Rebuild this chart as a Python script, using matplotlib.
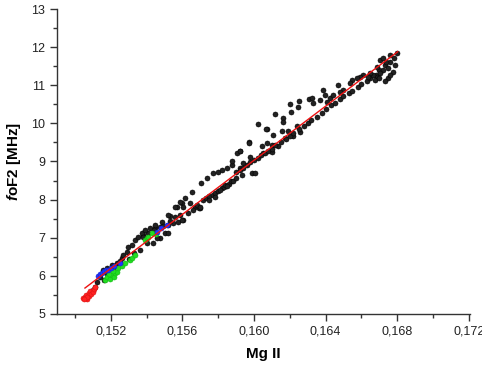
import matplotlib
matplotlib.use("Agg")
import matplotlib.pyplot as plt
from matplotlib.ticker import MultipleLocator, FuncFormatter

plt.rcParams['font.family'] = ['Liberation Sans', 'DejaVu Sans']
plt.rcParams['mathtext.fontset'] = 'custom'
plt.rcParams['mathtext.bfit'] = 'Liberation Sans:italic:bold'
plt.rcParams['mathtext.bf'] = 'Liberation Sans:bold'

# ---- data ----
black_x = [
    0.15100, 0.15111, 0.15122, 0.15139, 0.15155, 0.15178, 0.15206, 0.15234, 0.15261, 0.15267,
    0.15289, 0.15295, 0.15317, 0.15334, 0.15351, 0.15379, 0.15407, 0.15362, 0.15373, 0.15379,
    0.15390, 0.15401, 0.15418, 0.15435, 0.15446, 0.15474, 0.15474, 0.15502, 0.15519, 0.15530,
    0.15547, 0.15558, 0.15575, 0.15586, 0.15603, 0.15630, 0.15569, 0.15597, 0.15641, 0.15670,
    0.15697, 0.15446, 0.15457, 0.15485, 0.15519, 0.15519, 0.15558, 0.15586, 0.15603, 0.15614,
    0.15653, 0.15692, 0.15703, 0.15737, 0.15770, 0.15798, 0.15820, 0.15848, 0.15876, 0.15876,
    0.15920, 0.15971, 0.16072, 0.16162, 0.16206, 0.16245, 0.16310, 0.16066, 0.16106, 0.16162,
    0.16156, 0.16190, 0.16240, 0.16257, 0.16217, 0.16173, 0.15971, 0.16044, 0.16072, 0.16100,
    0.16133, 0.15905, 0.16050, 0.16100, 0.15920, 0.15977, 0.15938, 0.15920, 0.15988, 0.16005,
    0.15932, 0.15600, 0.15658, 0.15680, 0.15697,
    0.15714, 0.15730, 0.15750, 0.15770, 0.15780, 0.15800, 0.15820, 0.15830, 0.15840, 0.15860,
    0.15870, 0.15880, 0.15900, 0.15750, 0.15780, 0.15810, 0.15850,
    0.15900, 0.15920, 0.15940, 0.15960, 0.15980, 0.16000, 0.16020, 0.16040, 0.16060, 0.16080,
    0.16100, 0.16120, 0.16150, 0.16180, 0.16200, 0.16220, 0.16250, 0.16280, 0.16300, 0.16320,
    0.16350, 0.16380, 0.16400, 0.16430, 0.16450, 0.16480, 0.16500, 0.16530, 0.16550, 0.16580,
    0.16600, 0.16630, 0.16650, 0.16680, 0.16700, 0.16730, 0.16760, 0.16780,
    0.16800, 0.16760, 0.16788, 0.16748, 0.16720, 0.16704, 0.16704, 0.16687, 0.16665, 0.16648,
    0.16637, 0.16676, 0.16609, 0.16592, 0.16575, 0.16547, 0.16536, 0.16497, 0.16480, 0.16469,
    0.16385, 0.16396, 0.16368, 0.16407, 0.16424, 0.16441, 0.16324, 0.16330, 0.16748, 0.16776,
    0.16730, 0.16700, 0.16760, 0.16720, 0.16690, 0.16740, 0.16250, 0.16200, 0.16120, 0.16020,
    0.15300, 0.15330, 0.15250, 0.15210, 0.15180, 0.15220, 0.15160, 0.15440, 0.15490, 0.15530,
]
black_y = [
    5.63, 5.71, 5.84, 5.97, 6.15, 6.21, 6.29, 6.34, 6.47, 6.55,
    6.63, 6.76, 6.81, 6.94, 7.02, 7.07, 7.13, 6.68, 7.13, 7.02,
    7.20, 6.86, 7.26, 6.86, 7.26, 7.28, 6.99, 7.13, 7.34, 7.57,
    7.39, 7.55, 7.41, 7.60, 7.47, 7.65, 7.81, 7.91, 7.91, 7.81,
    7.78, 7.34, 6.99, 7.41, 7.60, 7.13, 7.81, 7.94, 7.81, 8.04,
    8.20, 7.78, 8.44, 8.57, 8.70, 8.73, 8.78, 8.83, 8.91, 9.02,
    9.28, 9.51, 9.86, 10.14, 10.30, 10.43, 10.64, 9.86, 9.70, 10.04,
    9.80, 9.80, 9.93, 9.78, 9.67, 9.62, 9.49, 9.41, 9.49, 9.44,
    9.41, 9.23, 9.23, 9.25, 9.28, 9.12, 8.96, 8.83, 8.70, 8.70,
    8.65, 7.47, 7.73, 7.86, 7.80,
    8.00, 8.05, 8.10, 8.12, 8.18, 8.22, 8.30, 8.33, 8.38, 8.42,
    8.48, 8.50, 8.58, 7.98, 8.08, 8.25, 8.35,
    8.72, 8.78, 8.84, 8.90, 8.98, 9.05, 9.10, 9.16, 9.22, 9.27,
    9.33, 9.42, 9.50, 9.58, 9.68, 9.74, 9.84, 9.93, 10.02, 10.08,
    10.18, 10.28, 10.38, 10.47, 10.54, 10.64, 10.72, 10.80, 10.86, 10.96,
    11.03, 11.10, 11.18, 11.28, 11.40, 11.52, 11.62, 11.72,
    11.85, 11.80, 11.54, 11.46, 11.40, 11.67, 11.33, 11.22, 11.27, 11.33,
    11.22, 11.14, 11.27, 11.22, 11.19, 11.14, 11.06, 10.88, 10.83, 11.01,
    10.88, 10.75, 10.62, 10.56, 10.67, 10.75, 10.67, 10.54, 11.20, 11.35,
    11.12, 11.20, 11.28, 11.72, 11.48, 11.60, 10.60, 10.52, 10.25, 9.98,
    6.45, 6.60, 6.40, 6.20, 6.05, 6.25, 5.90, 7.20, 7.30, 7.45,
]

green_x = [0.15166, 0.15180, 0.15195, 0.15205, 0.15215, 0.15225, 0.15234, 0.15190, 0.15210,
           0.15240, 0.15260, 0.15280, 0.15306, 0.15320, 0.15334, 0.15390, 0.15400, 0.15407,
           0.15429, 0.15450]
green_y = [5.88, 5.96, 5.92, 6.02, 5.98, 6.08, 6.10, 6.04, 6.12,
           6.20, 6.26, 6.34, 6.42, 6.48, 6.54, 6.94, 6.98, 7.02,
           7.13, 7.10]

blue_x = [0.15127, 0.15140, 0.15150, 0.15160, 0.15172, 0.15183, 0.15200, 0.15215, 0.15250,
          0.15457, 0.15480, 0.15513]
blue_y = [6.00, 6.05, 6.08, 6.12, 6.15, 6.15, 6.20, 6.25, 6.35,
          7.15, 7.25, 7.34]

red_x = [0.15045, 0.15055, 0.15060, 0.15068, 0.15075, 0.15080, 0.15085, 0.15090, 0.15098,
         0.15105, 0.15110, 0.15065, 0.15052]
red_y = [5.42, 5.45, 5.50, 5.40, 5.48, 5.55, 5.60, 5.52, 5.58,
         5.65, 5.70, 5.44, 5.38]

fit_x = [0.15055, 0.16803]
fit_y = [5.68, 11.88]

x_ticks = [0.152, 0.156, 0.160, 0.164, 0.168, 0.172]
y_ticks = [5, 6, 7, 8, 9, 10, 11, 12, 13]

# ---- plot ----
fig = plt.figure(figsize=(4.82, 3.76), dpi=100)
ax = fig.add_axes([0.118, 0.165, 0.857, 0.811])

ms = 13
ax.scatter(black_x, black_y, s=ms, c='#222222', edgecolors='#000000', linewidths=0.4, zorder=2)
ax.scatter(green_x, green_y, s=ms, c='#22dd22', edgecolors='#11bb11', linewidths=0.4, zorder=3)
ax.scatter(blue_x, blue_y, s=ms, c='#2233ff', edgecolors='#1122cc', linewidths=0.4, zorder=3)
ax.scatter(red_x, red_y, s=ms, c='#ff2222', edgecolors='#dd1111', linewidths=0.4, zorder=3)
ax.plot(fit_x, fit_y, color='#ee1111', lw=1.0, zorder=4)

ax.set_xlim(0.14898, 0.17207)
ax.set_ylim(5, 13)
ax.set_xticks(x_ticks)
ax.set_yticks(y_ticks)
ax.xaxis.set_minor_locator(MultipleLocator(0.002))
ax.yaxis.set_minor_locator(MultipleLocator(0.5))
ax.xaxis.set_major_formatter(FuncFormatter(lambda v, p: f"{v:.3f}".replace('.', ',')))
ax.yaxis.set_major_formatter(FuncFormatter(lambda v, p: f"{int(round(v))}"))

for s in ['top', 'right']:
    ax.spines[s].set_visible(False)
for s in ['left', 'bottom']:
    ax.spines[s].set_linewidth(1.0)
    ax.spines[s].set_color('#333333')

ax.tick_params(which='major', direction='out', length=5, width=1, color='#333333',
               labelsize=9, labelcolor='#222222')
ax.tick_params(which='minor', direction='out', length=3, width=1, color='#333333')

ax.set_xlabel(r'Mg II', fontsize=11, fontweight='bold', labelpad=7)
ax.set_ylabel(r'$\mathbfit{f}$oF2 [MHz]', fontsize=11, fontweight='bold', labelpad=6)

fig.savefig('out.png', dpi=100)
